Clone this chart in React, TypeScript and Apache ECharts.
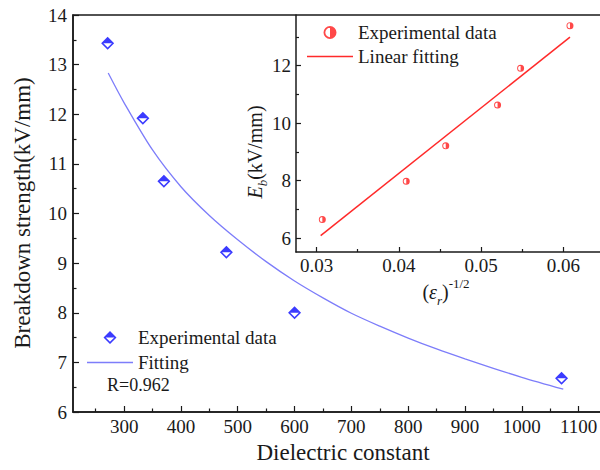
import React, { useEffect, useRef } from 'react';
import * as echarts from 'echarts';

// Main plot data
const dielectricConstant = [271, 333, 370, 480, 600, 1070];
const breakdownStrength = [13.43, 11.92, 10.65, 9.22, 8.0, 6.68];
const fitX = [272, 300, 350, 400, 450, 500, 550, 600, 650, 700, 750, 800, 850, 900, 950, 1000, 1073];
const fitY = [12.83, 12.23, 11.28, 10.54, 9.96, 9.47, 9.03, 8.64, 8.3, 7.99, 7.73, 7.49, 7.27, 7.07, 6.88, 6.7, 6.46];

// Inset data
const insetX = [0.0307, 0.0409, 0.0457, 0.052, 0.0548, 0.0608];
const insetY = [6.65, 7.98, 9.21, 10.63, 11.91, 13.39];
const linearFitX = [0.0305, 0.0608];
const linearFitY = [6.09, 12.99];

// Ticks
const mainXTicks = [300, 400, 500, 600, 700, 800, 900, 1000, 1100];
const mainXMinorTicks = [250, 350, 450, 550, 650, 750, 850, 950, 1050];
const mainYTicks = [6, 7, 8, 9, 10, 11, 12, 13, 14];
const mainYMinorTicks = [6.5, 7.5, 8.5, 9.5, 10.5, 11.5, 12.5, 13.5];
const insetXTicks = [0.03, 0.04, 0.05, 0.06];
const insetXMinorTicks = [0.035, 0.045, 0.055];
const insetYTicks = [6, 8, 10, 12];
const insetYMinorTicks = [7, 9, 11, 13];

const FONT = 'Liberation Serif';
const INK = '#1a1a1a';

const diamondHalf =
  'path://M50 0L100 50L50 100L0 50Z M50 17L17 50L50 83L83 50Z M50 0L100 50L0 50Z';
const circleHalf =
  'path://M50 0A50 50 0 1 1 50 100A50 50 0 1 1 50 0Z M50 14A36 36 0 1 0 50 86A36 36 0 1 0 50 14Z M50 0A50 50 0 0 1 50 100Z';
const blueLineIcon = 'path://M0 0H100V2.8H0Z';
const redLineIcon = 'path://M0 0H100V3.3H0Z';

const zip = (a: number[], b: number[]) => a.map((v, i) => [v, b[i]]);

function majorAxis(
  gridIndex: number,
  min: number,
  max: number,
  ticks: number[],
  fmt: (v: number) => string,
  len: number,
  fontSize: number,
  position: string,
  margin: number
) {
  return {
    type: 'value',
    gridIndex,
    min,
    max,
    position,
    axisLine: { show: true, onZero: false, lineStyle: { color: INK, width: 1.5 } },
    axisTick: { show: true, inside: true, length: len, customValues: ticks, lineStyle: { color: INK, width: 1.2 } },
    axisLabel: {
      show: true,
      customValues: ticks,
      formatter: fmt,
      color: INK,
      fontFamily: FONT,
      fontSize,
      margin,
      hideOverlap: false,
    },
    splitLine: { show: false },
    minorTick: { show: false },
  };
}

function minorAxis(gridIndex: number, min: number, max: number, ticks: number[], len: number, position: string) {
  return {
    type: 'value',
    gridIndex,
    min,
    max,
    position,
    axisLine: { show: false, onZero: false },
    axisTick: { show: true, inside: true, length: len, customValues: ticks, lineStyle: { color: INK, width: 1.2 } },
    axisLabel: { show: false },
    splitLine: { show: false },
  };
}

export default function App() {
  const ref = useRef<HTMLDivElement>(null);
  useEffect(() => {
    if (!ref.current) return;
    const chart = echarts.init(ref.current, undefined, { renderer: 'svg' });
    const intFmt = (v: number) => String(Math.round(v));
    const dec2 = (v: number) => v.toFixed(2);
    const legendText = { fontFamily: FONT, fontSize: 19, color: INK, lineHeight: 20 };
    chart.setOption({
      animation: false,
      backgroundColor: '#ffffff',
      textStyle: { fontFamily: FONT },
      grid: [
        {
          left: 73, top: 15, width: 534, height: 397,
          show: true, borderColor: INK, borderWidth: 1.5, backgroundColor: 'transparent',
          containLabel: false, outerBoundsMode: 'none',
        },
        {
          left: 296, top: 15, width: 311, height: 237,
          show: false, containLabel: false, outerBoundsMode: 'none',
        },
      ],
      xAxis: [
        majorAxis(0, 210, 1150, mainXTicks, intFmt, 6, 19, 'bottom', 5),
        minorAxis(0, 210, 1150, mainXMinorTicks, 3.5, 'bottom'),
        majorAxis(1, 0.0275, 0.0653, insetXTicks, dec2, 5, 19, 'bottom', 4),
        minorAxis(1, 0.0275, 0.0653, insetXMinorTicks, 3, 'bottom'),
      ],
      yAxis: [
        majorAxis(0, 6, 14, mainYTicks, intFmt, 6, 19, 'left', 6),
        minorAxis(0, 6, 14, mainYMinorTicks, 3.5, 'left'),
        majorAxis(1, 5.52, 13.76, insetYTicks, intFmt, 5, 19, 'left', 5),
        minorAxis(1, 5.52, 13.76, insetYMinorTicks, 3, 'left'),
      ],
      legend: [
        {
          data: ['Experimental data', { name: 'Fitting', icon: blueLineIcon }],
          orient: 'vertical',
          left: 87,
          top: 327.5,
          padding: 0,
          itemWidth: 46,
          itemHeight: 13,
          itemGap: 5,
          selectedMode: false,
          textStyle: legendText,
        },
        {
          data: ['Experimental data ', { name: 'Linear fitting', icon: redLineIcon }],
          orient: 'vertical',
          left: 307,
          top: 22.5,
          padding: 0,
          itemWidth: 46,
          itemHeight: 13,
          itemGap: 4,
          selectedMode: false,
          formatter: (n: string) => n.trim(),
          textStyle: legendText,
        },
      ],
      series: [
        {
          name: 'Fitting',
          type: 'line',
          xAxisIndex: 0,
          yAxisIndex: 0,
          data: zip(fitX, fitY),
          smooth: 0.3,
          symbol: 'none',
          lineStyle: { color: '#7d7dfa', width: 1.3 },
          itemStyle: { color: '#7d7dfa' },
        },
        {
          name: 'Experimental data',
          type: 'scatter',
          xAxisIndex: 0,
          yAxisIndex: 0,
          data: zip(dielectricConstant, breakdownStrength),
          symbol: diamondHalf,
          symbolSize: 13,
          itemStyle: { color: '#0a0aff' },
        },
        {
          name: 'Linear fitting',
          type: 'line',
          xAxisIndex: 2,
          yAxisIndex: 2,
          data: zip(linearFitX, linearFitY),
          symbol: 'none',
          lineStyle: { color: '#ff2a2a', width: 1.5 },
          itemStyle: { color: '#ff2a2a' },
        },
        {
          name: 'Experimental data ',
          type: 'scatter',
          xAxisIndex: 2,
          yAxisIndex: 2,
          data: zip(insetX, insetY),
          symbol: circleHalf,
          symbolSize: 7,
          itemStyle: { color: '#ff1a1a' },
        },
      ],
      graphic: [
        {
          type: 'text',
          x: 107,
          y: 385,
          style: {
            text: 'R=0.962', fontFamily: FONT, fontSize: 18, fill: INK,
            align: 'left', verticalAlign: 'middle', textAlign: 'left', textVerticalAlign: 'middle',
          },
        },
        {
          type: 'text',
          x: 22,
          y: 213,
          rotation: Math.PI / 2,
          style: {
            text: 'Breakdown strength(kV/mm)', fontFamily: FONT, fontSize: 23, fill: INK,
            align: 'center', verticalAlign: 'middle', textAlign: 'center', textVerticalAlign: 'middle',
          },
        },
        {
          type: 'text',
          x: 343,
          y: 452,
          style: {
            text: 'Dielectric constant', fontFamily: FONT, fontSize: 23, fill: INK,
            align: 'center', verticalAlign: 'middle', textAlign: 'center', textVerticalAlign: 'middle',
          },
        },
        {
          type: 'text',
          x: 255,
          y: 152,
          rotation: Math.PI / 2,
          style: {
            text: '{i|E}{s|b}{n|(kV/mm)}',
            fontFamily: FONT, fontSize: 20, fill: INK,
            align: 'center', verticalAlign: 'middle', textAlign: 'center', textVerticalAlign: 'middle',
            rich: {
              i: { fontFamily: FONT, fontSize: 20, fontStyle: 'italic', fill: INK, lineHeight: 28 },
              s: { fontFamily: FONT, fontSize: 13, fontStyle: 'italic', fill: INK, lineHeight: 28, verticalAlign: 'bottom' },
              n: { fontFamily: FONT, fontSize: 20, fill: INK, lineHeight: 28 },
            },
          },
        },
        {
          type: 'text',
          x: 446,
          y: 292,
          style: {
            text: '{n|(}{i|ε}{s|r}{n|)}{p|-1/2}',
            fontFamily: FONT, fontSize: 20, fill: INK,
            align: 'center', verticalAlign: 'middle', textAlign: 'center', textVerticalAlign: 'middle',
            rich: {
              i: { fontFamily: FONT, fontSize: 20, fontStyle: 'italic', fill: INK, lineHeight: 30 },
              s: { fontFamily: FONT, fontSize: 13, fontStyle: 'italic', fill: INK, lineHeight: 30, verticalAlign: 'bottom' },
              p: { fontFamily: FONT, fontSize: 13, fill: INK, lineHeight: 30, verticalAlign: 'top' },
              n: { fontFamily: FONT, fontSize: 20, fill: INK, lineHeight: 30 },
            },
          },
        },
      ],
    });
    return () => chart.dispose();
  }, []);
  return (
    <div
      style={{
        position: 'fixed',
        left: 0,
        top: 0,
        width: 600,
        height: 470,
        overflow: 'hidden',
        background: '#fff',
      }}
    >
      <div ref={ref} style={{ width: 620, height: 470 }} />
    </div>
  );
}
